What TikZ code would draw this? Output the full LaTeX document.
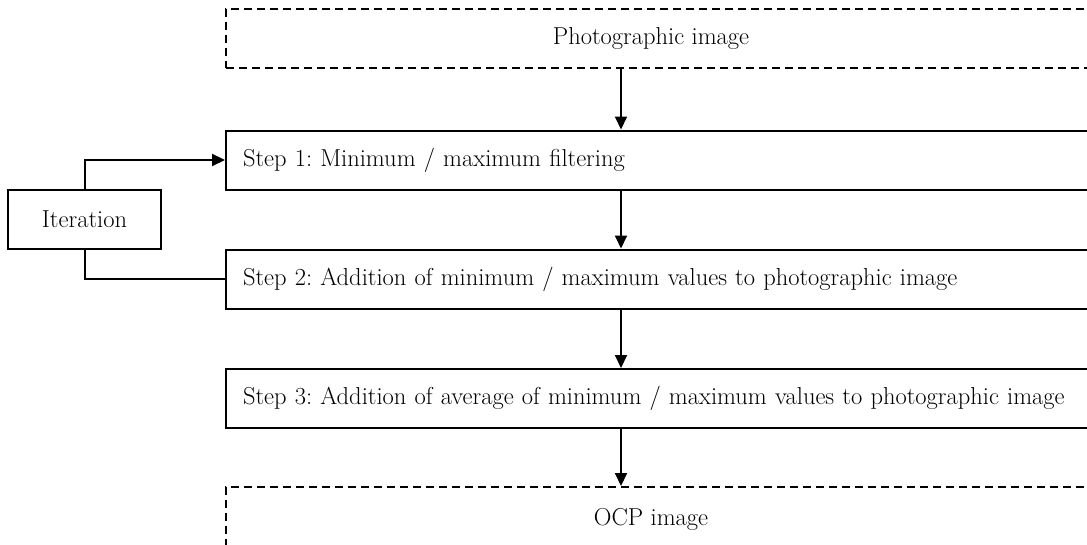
\documentclass[tikz,border=0pt]{standalone}
\usetikzlibrary{arrows.meta}
\begin{document}
\frenchspacing
\begin{tikzpicture}[x=1pt,y=-1pt,
  line width=2pt,
  txt/.style={font=\fontsize{24.5}{28}\selectfont},
  solidbox/.style={draw, rectangle, minimum height=59pt, minimum width=900pt,
    anchor=west, inner xsep=17pt, text width=866pt, align=left, txt},
  dashbox/.style={draw, rectangle, minimum height=59pt, minimum width=900pt,
    anchor=west, dash pattern=on 8pt off 5pt},
  iterbox/.style={draw, rectangle, minimum height=59pt, minimum width=153pt, txt},
  flow/.style={-{Triangle[length=13pt,width=12pt]}}]
\useasboundingbox (0,0) rectangle (1087,544);
\clip (0,0) rectangle (1087,544);

% input and output frames
\node[dashbox] (photo) at (225,38.5) {};
\node[txt] (phototext) at (651,38) {Photographic image};
\node[dashbox] (ocp) at (225,516.5) {};
\node[txt] (ocptext) at (651,519) {OCP image};

% processing steps
\node[solidbox] (s1) at (225,160) {Step 1: Minimum / maximum filtering};
\node[solidbox] (s2) at (225,279) {Step 2: Addition of minimum / maximum values to photographic image};
\node[solidbox] (s3) at (225,398.5) {Step 3: Addition of average of minimum / maximum values to photographic image};

% loop control
\node[iterbox] (iter) at (84.5,219.5) {Iteration};

% main flow
\coordinate (axis) at (621,0);
\draw[flow] (photo.south -| axis) -- (s1.north -| axis);
\draw[flow] (s1.south -| axis) -- (s2.north -| axis);
\draw[flow] (s2.south -| axis) -- (s3.north -| axis);
\draw[flow] (s3.south -| axis) -- (ocp.north -| axis);

% iteration loop
\draw[flow] (iter.north) |- (s1.west);
\draw (iter.south) |- (s2.west);
\end{tikzpicture}
\end{document}
